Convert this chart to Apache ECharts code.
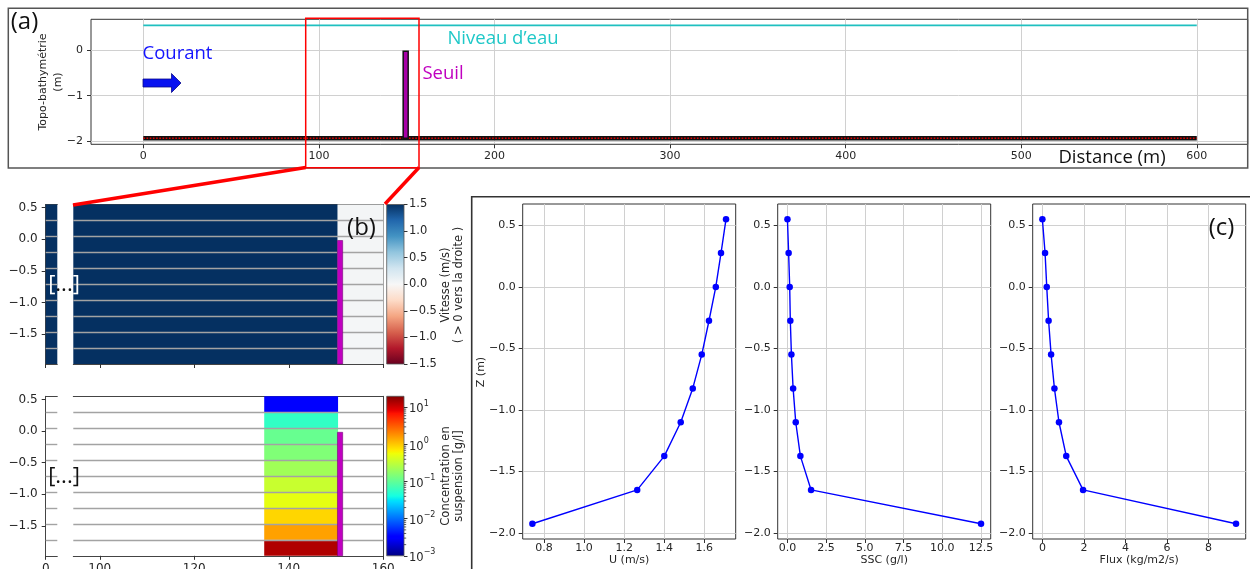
<!DOCTYPE html>
<html>
<head>
<meta charset="utf-8">
<script src="https://cdn.jsdelivr.net/npm/echarts@6/dist/echarts.min.js"></script>
<style>
  html, body { margin: 0; padding: 0; background: #ffffff; }
  #chart { width: 1250px; height: 569px; }
</style>
</head>
<body>
<div id="chart"></div>
<script>
// ---------- (a) longitudinal topo-bathymetry ----------
const channelX = [0, 600];          // m
const waterLevel = 0.55;            // m
const bedLevel = -1.94;             // m
const weirX = [150.3, 151.4];       // m
const weirTop = -0.02;              // m
const distTicks = [0, 100, 200, 300, 400, 500, 600];
const topoTicks = [-2, -1, 0];

// ---------- (b) zoomed sections around the weir ----------
// sigma-layer interfaces, bottom to top (m)
const layerEdges = [-1.975, -1.7225, -1.47, -1.2175, -0.965, -0.7125, -0.46, -0.2075, 0.045, 0.2975, 0.55];
// velocity field: two columns (upstream of the weir / downstream)
const velColumnEdges = [0, 150.3, 165];
const velUpstream = [1.62, 1.64, 1.66, 1.68, 1.70, 1.71, 1.72, 1.73, 1.74, 1.75];    // m/s, bottom to top
const velDownstream = [0.02, 0.02, 0.02, 0.03, 0.03, 0.03, 0.03, 0.03, 0.03, 0.03]; // m/s, bottom to top
// suspended sediment concentration column just upstream of the weir
const sscColumnEdges = [134.8, 150.3];
const sscCells = [13.2, 1.52, 0.87, 0.51, 0.355, 0.22, 0.149, 0.11, 0.058, 0.0033]; // g/l, bottom to top
const zoomDistTicks = [100, 120, 140, 160];
const sectionZTicks = [-1.5, -1, -0.5, 0, 0.5];
const velBarTicks = [-1.5, -1, -0.5, 0, 0.5, 1, 1.5];

// ---------- (c) vertical profiles ----------
const zProfile    = [0.55, 0.275, 0, -0.275, -0.55, -0.825, -1.1, -1.375, -1.65, -1.925]; // m
const uProfile    = [1.708, 1.683, 1.657, 1.623, 1.587, 1.542, 1.482, 1.400, 1.265, 0.742]; // m/s
const sscProfile  = [0.004, 0.08, 0.15, 0.19, 0.26, 0.37, 0.54, 0.84, 1.53, 12.5];        // g/l
const fluxProfile = [0.0, 0.13, 0.21, 0.30, 0.42, 0.58, 0.80, 1.15, 1.96, 9.33];          // kg/m2/s
const zProfileTicks = [-2, -1.5, -1, -0.5, 0, 0.5];
const uTicks = [0.8, 1.0, 1.2, 1.4, 1.6];
const sscTicks = [0, 2.5, 5, 7.5, 10, 12.5];
const fluxTicks = [0, 2, 4, 6, 8];

// ---------- colour maps ----------
function lerpTable(tab, f) {
  if (f <= tab[0][0]) return tab[0][1];
  for (let i = 1; i < tab.length; i++) {
    if (f <= tab[i][0]) {
      const a0 = tab[i - 1][0], v0 = tab[i - 1][1], a1 = tab[i][0], v1 = tab[i][1];
      return v0 + (v1 - v0) * (f - a0) / (a1 - a0);
    }
  }
  return tab[tab.length - 1][1];
}
const JET = {
  r: [[0, 0], [0.35, 0], [0.66, 1], [0.89, 1], [1, 0.5]],
  g: [[0, 0], [0.125, 0], [0.375, 1], [0.64, 1], [0.91, 0], [1, 0]],
  b: [[0, 0.5], [0.11, 1], [0.34, 1], [0.65, 0], [1, 0]]
};
function jet(f) {
  f = Math.min(1, Math.max(0, f));
  const c = k => Math.round(255 * lerpTable(JET[k], f));
  return 'rgb(' + c('r') + ',' + c('g') + ',' + c('b') + ')';
}
const RDBU = ['#67001f', '#b2182b', '#d6604d', '#f4a582', '#fddbc7', '#f7f7f7',
              '#d1e5f0', '#92c5de', '#4393c3', '#2166ac', '#053061'];
function hexRgb(h) { return [1, 3, 5].map(i => parseInt(h.substr(i, 2), 16)); }
function rdbu(f) {
  f = Math.min(1, Math.max(0, f));
  const p = f * 10, i = Math.min(9, Math.floor(p)), t = p - i;
  const a = hexRgb(RDBU[i]), b = hexRgb(RDBU[i + 1]);
  const c = a.map((v, k) => Math.round(v + (b[k] - v) * t));
  return 'rgb(' + c.join(',') + ')';
}
const SSC_MIN = 0.001, SSC_MAX = 20;
const sscColor = v => jet((Math.log10(v) - Math.log10(SSC_MIN)) / (Math.log10(SSC_MAX) - Math.log10(SSC_MIN)));
const VEL_MIN = -1.5, VEL_MAX = 1.5;
const velColor = v => rdbu((v - VEL_MIN) / (VEL_MAX - VEL_MIN));

// ---------- cell tables for the custom series ----------
const velCells = [];
[velUpstream, velDownstream].forEach((col, c) => {
  col.forEach((u, k) => velCells.push([velColumnEdges[c], velColumnEdges[c + 1], layerEdges[k], layerEdges[k + 1], u]));
});
const sscCellData = sscCells.map((v, k) => [sscColumnEdges[0], sscColumnEdges[1], layerEdges[k], layerEdges[k + 1], v]);
const interfaceData = layerEdges.slice(1, -1).map(z => [0, z]);
const weirSection = [[weirX[0], weirX[1], layerEdges[0], weirTop]];

// ---------- renderers ----------
function cellRenderer(colorFn) {
  return function (params, api) {
    const p0 = api.coord([api.value(0), api.value(3)]);
    const p1 = api.coord([api.value(1), api.value(2)]);
    const cs = params.coordSys;
    const shape = echarts.graphic.clipRectByRect(
      { x: p0[0], y: p0[1], width: p1[0] - p0[0] + 0.6, height: p1[1] - p0[1] },
      { x: cs.x, y: cs.y, width: cs.width, height: cs.height });
    return shape && { type: 'rect', shape: shape, style: { fill: colorFn(api.value(4)) } };
  };
}
function interfaceRenderer(params, api) {
  const cs = params.coordSys;
  const y = Math.round(api.coord([0, api.value(1)])[1]) + 0.5;
  return { type: 'line', shape: { x1: cs.x, y1: y, x2: cs.x + cs.width, y2: y },
           style: { stroke: '#a3a3a3', lineWidth: 1.4 } };
}
function weirSectionRenderer(params, api) {
  const p0 = api.coord([api.value(0), api.value(3)]);
  const p1 = api.coord([api.value(1), api.value(2)]);
  const cs = params.coordSys;
  const shape = echarts.graphic.clipRectByRect(
    { x: p0[0], y: p0[1], width: p1[0] - p0[0], height: p1[1] - p0[1] },
    { x: cs.x, y: cs.y, width: cs.width, height: cs.height });
  return shape && { type: 'rect', shape: shape, style: { fill: '#c000c0', stroke: '#7a007a', lineWidth: 0.6 } };
}
function weirProfileRenderer(params, api) {
  const p0 = api.coord([api.value(0), api.value(3)]);
  const p1 = api.coord([api.value(1), api.value(2)]);
  const cx = (p0[0] + p1[0]) / 2 - 2.5;
  const w = Math.max(p1[0] - p0[0], 5);
  return { type: 'rect', shape: { x: cx - w / 2, y: p0[1], width: w, height: p1[1] - p0[1] },
           style: { fill: '#a800a8', stroke: '#111', lineWidth: 1.5 } };
}
// matplotlib-style minor ticks on the log colour bar
const logMinorTicks = [];
[0.001, 0.01, 0.1, 1].forEach(d => { for (let m = 2; m <= 9; m++) logMinorTicks.push([0.5, d * m]); });
function minorTickRenderer(params, api) {
  const cs = params.coordSys;
  const y = api.coord([0.5, api.value(1)])[1];
  return { type: 'line', shape: { x1: cs.x + cs.width, y1: y, x2: cs.x + cs.width + 2.2, y2: y },
           style: { stroke: '#333', lineWidth: 0.8 } };
}

// ---------- helpers ----------
const AXIS_FONT = 'DejaVu Sans';
const INK = '#262626';
const minus = s => s.replace('-', '\u2212');
const fmt1 = v => minus((Math.abs(v) < 1e-9 ? 0 : v).toFixed(1));
const fmt0 = v => minus(String(Math.round(v)));

function valueAxis(o) {
  const ticks = o.ticks || [];
  return {
    type: o.type || 'value',
    gridIndex: o.grid,
    position: o.position,
    min: o.min, max: o.max,
    show: o.show !== false,
    axisLine: { show: !!o.line, onZero: false, lineStyle: { color: o.lineColor || '#333', width: 1 } },
    axisTick: { show: !!o.tickShow, length: 4, inside: false, customValues: ticks, lineStyle: { color: '#333', width: 1 } },
    axisLabel: {
      show: !!o.label, customValues: ticks, formatter: o.formatter,
      color: INK, fontFamily: AXIS_FONT, fontSize: o.fontSize || 10.5, margin: o.margin || 6,
      showMinLabel: true, showMaxLabel: true, hideOverlap: false
    },
    splitLine: { show: !!o.split, lineStyle: { color: '#d0d0d0', width: 1 } },
    name: o.name || '', nameLocation: 'middle', nameGap: o.nameGap || 20,
    nameMoveOverlap: false,
    nameTextStyle: { color: INK, fontFamily: AXIS_FONT, fontSize: 11 },
    silent: true
  };
}

const gridBase = { containLabel: false, outerBoundsMode: 'none' };
const grids = [
  Object.assign({ left: 91, top: 19.3, width: 1156.7, height: 125, show: true, borderColor: '#333', borderWidth: 1 }, gridBase), // 0 (a)
  Object.assign({ left: 45.7, top: 204.5, width: 11.6, height: 159.5 }, gridBase),   // 1 velocity, left piece
  Object.assign({ left: 73.3, top: 204.5, width: 310, height: 159.5 }, gridBase),    // 2 velocity, right piece
  Object.assign({ left: 45.7, top: 396.3, width: 11.6, height: 159.5 }, gridBase),   // 3 concentration, left piece
  Object.assign({ left: 73.3, top: 396.3, width: 310, height: 159.5 }, gridBase),    // 4 concentration, right piece
  Object.assign({ left: 386.7, top: 204.5, width: 17.3, height: 159.5, show: true, borderColor: '#555', borderWidth: 0.8,
    backgroundColor: { type: 'linear', x: 0, y: 0, x2: 0, y2: 1,
      colorStops: RDBU.slice().reverse().map((c, i) => ({ offset: i / 10, color: c })) } }, gridBase), // 5 velocity bar
  Object.assign({ left: 386.7, top: 396.3, width: 17.3, height: 159.5, show: true, borderColor: '#555', borderWidth: 0.8,
    backgroundColor: { type: 'linear', x: 0, y: 0, x2: 0, y2: 1,
      colorStops: [1, 0.91, 0.89, 0.66, 0.65, 0.64, 0.375, 0.35, 0.34, 0.125, 0.11, 0]
        .map(f => ({ offset: 1 - f, color: jet(f) })) } }, gridBase),                 // 6 concentration bar
  Object.assign({ left: 522.7, top: 204, width: 213, height: 335, show: true, borderColor: '#333', borderWidth: 1 }, gridBase),  // 7 U
  Object.assign({ left: 777.7, top: 204, width: 213, height: 335, show: true, borderColor: '#333', borderWidth: 1 }, gridBase),  // 8 SSC
  Object.assign({ left: 1032.7, top: 204, width: 213, height: 335, show: true, borderColor: '#333', borderWidth: 1 }, gridBase)  // 9 Flux
];

const zMin = layerEdges[0], zMax = layerEdges[layerEdges.length - 1];
const pz = [-2.04875, 0.67375];

const xAxes = [
  valueAxis({ grid: 0, min: -29.8, max: 629, ticks: distTicks, tickShow: true, label: true, fontSize: 11, margin: 6, split: true, formatter: fmt0 }),
  valueAxis({ grid: 1, min: 0, max: 2.46, ticks: [0], tickShow: true, line: true, lineColor: '#444' }),
  valueAxis({ grid: 2, min: 94.4, max: 160, ticks: zoomDistTicks, tickShow: true, line: true, lineColor: '#444' }),
  valueAxis({ grid: 3, min: 0, max: 2.46, ticks: [0], tickShow: true, line: true, lineColor: '#444', label: true, fontSize: 12, margin: 7, formatter: fmt0 }),
  valueAxis({ grid: 4, min: 94.4, max: 160, ticks: zoomDistTicks, tickShow: true, line: true, lineColor: '#444', label: true, fontSize: 12, margin: 7, formatter: fmt0 }),
  valueAxis({ grid: 5, min: 0, max: 1, show: false }),
  valueAxis({ grid: 6, min: 0, max: 1, show: false }),
  valueAxis({ grid: 7, min: 0.6937, max: 1.7563, ticks: uTicks, tickShow: true, label: true, margin: 4, split: true, formatter: fmt1, name: 'U (m/s)', nameGap: 16 }),
  valueAxis({ grid: 8, min: -0.625, max: 13.125, ticks: sscTicks, tickShow: true, label: true, margin: 4, split: true, formatter: fmt1, name: 'SSC (g/l)', nameGap: 16 }),
  valueAxis({ grid: 9, min: -0.4665, max: 9.7965, ticks: fluxTicks, tickShow: true, label: true, margin: 4, split: true, formatter: fmt0, name: 'Flux (kg/m2/s)', nameGap: 16 }),
  // top spines of the broken section axes
  valueAxis({ grid: 1, position: 'top', min: 0, max: 2.46, line: true, lineColor: '#444' }),
  valueAxis({ grid: 2, position: 'top', min: 94.4, max: 160, line: true, lineColor: '#444' }),
  valueAxis({ grid: 3, position: 'top', min: 0, max: 2.46, line: true, lineColor: '#444' }),
  valueAxis({ grid: 4, position: 'top', min: 94.4, max: 160, line: true, lineColor: '#444' })
];

const sscBarAxis = valueAxis({ grid: 6, position: 'right', min: SSC_MIN, max: SSC_MAX, tickShow: true, label: true, fontSize: 11, margin: 5 });
sscBarAxis.type = 'log';
sscBarAxis.logBase = 10;
delete sscBarAxis.axisTick.customValues;
delete sscBarAxis.axisLabel.customValues;
sscBarAxis.axisTick.length = 3.5;
sscBarAxis.axisLabel.showMaxLabel = false;
sscBarAxis.axisLabel.formatter = function (v) {
  const e = Math.round(Math.log10(v));
  if (Math.abs(v - Math.pow(10, e)) / v > 1e-6) return '';
  return '{b|10}{e|' + (e < 0 ? '\u2212' : '') + Math.abs(e) + '}';
};
sscBarAxis.axisLabel.rich = {
  b: { fontSize: 11.5, fontFamily: AXIS_FONT, color: INK, lineHeight: 16, verticalAlign: 'bottom' },
  e: { fontSize: 8, fontFamily: AXIS_FONT, color: INK, lineHeight: 16, verticalAlign: 'top' }
};

const yAxes = [
  valueAxis({ grid: 0, min: -2.073, max: 0.684, ticks: topoTicks, tickShow: true, label: true, fontSize: 11, margin: 8, split: true, formatter: fmt0 }),
  valueAxis({ grid: 1, position: 'left', min: zMin, max: zMax, ticks: sectionZTicks, tickShow: true, line: true, lineColor: '#444', label: true, fontSize: 12, margin: 8, formatter: fmt1 }),
  valueAxis({ grid: 2, position: 'right', min: zMin, max: zMax, line: true, lineColor: '#888' }),
  valueAxis({ grid: 3, position: 'left', min: zMin, max: zMax, ticks: sectionZTicks, tickShow: true, line: true, lineColor: '#444', label: true, fontSize: 12, margin: 8, formatter: fmt1 }),
  valueAxis({ grid: 4, position: 'right', min: zMin, max: zMax, line: true, lineColor: '#444' }),
  valueAxis({ grid: 5, position: 'right', min: VEL_MIN, max: VEL_MAX, ticks: velBarTicks, tickShow: true, label: true, fontSize: 11.5, margin: 5, formatter: fmt1 }),
  sscBarAxis,
  valueAxis({ grid: 7, min: pz[0], max: pz[1], ticks: zProfileTicks, tickShow: true, label: true, fontSize: 11, margin: 7, split: true, formatter: fmt1 }),
  valueAxis({ grid: 8, min: pz[0], max: pz[1], ticks: zProfileTicks, tickShow: true, label: true, fontSize: 11, margin: 7, split: true, formatter: fmt1 }),
  valueAxis({ grid: 9, min: pz[0], max: pz[1], ticks: zProfileTicks, tickShow: true, label: true, fontSize: 11, margin: 7, split: true, formatter: fmt1 })
];
yAxes[5].axisTick.length = 3.5;
[7, 8, 9].forEach(i => { xAxes[i].axisLabel.fontSize = 11; });

const profileSeries = (xi, values) => ({
  type: 'line', xAxisIndex: xi, yAxisIndex: xi,
  data: values.map((v, i) => [v, zProfile[i]]),
  symbol: 'circle', symbolSize: 6.5, showSymbol: true,
  itemStyle: { color: '#0000ff' },
  lineStyle: { color: '#0000ff', width: 1.4 },
  z: 5
});

const series = [
  // (a)
  { type: 'line', xAxisIndex: 0, yAxisIndex: 0, data: channelX.map(x => [x, waterLevel]), showSymbol: false,
    lineStyle: { color: '#1fc0c0', width: 1.6 }, z: 3 },
  { type: 'line', xAxisIndex: 0, yAxisIndex: 0, data: channelX.map(x => [x, bedLevel]), showSymbol: false,
    lineStyle: { color: '#111111', width: 4.5 }, z: 3 },
  { type: 'line', xAxisIndex: 0, yAxisIndex: 0, data: channelX.map(x => [x, bedLevel]), showSymbol: false,
    lineStyle: { color: '#e00000', width: 1.6, type: [1.6, 1.6] }, z: 4 },
  { type: 'custom', xAxisIndex: 0, yAxisIndex: 0, data: [[weirX[0], weirX[1], bedLevel, weirTop]],
    renderItem: weirProfileRenderer, z: 5 },
  // (b) velocity
  { type: 'custom', xAxisIndex: 1, yAxisIndex: 1, data: velCells, renderItem: cellRenderer(velColor), z: 2 },
  { type: 'custom', xAxisIndex: 2, yAxisIndex: 2, data: velCells, renderItem: cellRenderer(velColor), z: 2 },
  { type: 'custom', xAxisIndex: 1, yAxisIndex: 1, data: interfaceData, renderItem: interfaceRenderer, z: 3 },
  { type: 'custom', xAxisIndex: 2, yAxisIndex: 2, data: interfaceData, renderItem: interfaceRenderer, z: 3 },
  { type: 'custom', xAxisIndex: 2, yAxisIndex: 2, data: weirSection, renderItem: weirSectionRenderer, z: 4 },
  // (b) concentration
  { type: 'custom', xAxisIndex: 3, yAxisIndex: 3, data: sscCellData, renderItem: cellRenderer(sscColor), z: 2 },
  { type: 'custom', xAxisIndex: 4, yAxisIndex: 4, data: sscCellData, renderItem: cellRenderer(sscColor), z: 2 },
  { type: 'custom', xAxisIndex: 3, yAxisIndex: 3, data: interfaceData, renderItem: interfaceRenderer, z: 3 },
  { type: 'custom', xAxisIndex: 4, yAxisIndex: 4, data: interfaceData, renderItem: interfaceRenderer, z: 3 },
  { type: 'custom', xAxisIndex: 4, yAxisIndex: 4, data: weirSection, renderItem: weirSectionRenderer, z: 4 },
  { type: 'custom', xAxisIndex: 6, yAxisIndex: 6, data: logMinorTicks, renderItem: minorTickRenderer, z: 4 },
  // (c)
  profileSeries(7, uProfile),
  profileSeries(8, sscProfile),
  profileSeries(9, fluxProfile)
];

const T = (x, y, text, font, fill, extra) => Object.assign({
  type: 'text', x: x, y: y, z: 100,
  style: { text: text, font: font, fill: fill, align: 'center', verticalAlign: 'middle' }
}, extra || {});

const graphics = [
  // frames
  { type: 'rect', z: 90, shape: { x: 8.3, y: 8.3, width: 1239.4, height: 159.7 }, style: { fill: 'none', stroke: '#555', lineWidth: 1.5 } },
  { type: 'rect', z: 90, shape: { x: 471.7, y: 196.7, width: 800, height: 420 }, style: { fill: 'none', stroke: '#333', lineWidth: 1.6 } },
  // zoom window and its connectors
  { type: 'rect', z: 95, shape: { x: 305.7, y: 18.3, width: 113.3, height: 149.4 }, style: { fill: 'none', stroke: '#ff0000', lineWidth: 1.5 } },
  { type: 'line', z: 95, shape: { x1: 305.7, y1: 167.5, x2: 73, y2: 205 }, style: { stroke: '#ff0000', lineWidth: 3.5 } },
  { type: 'line', z: 95, shape: { x1: 419, y1: 167.5, x2: 385, y2: 204 }, style: { stroke: '#ff0000', lineWidth: 3.5 } },
  // flow arrow
  { type: 'polygon', z: 96, shape: { points: [[143, 79], [171.5, 79], [171.5, 73.5], [181, 83], [171.5, 92.5], [171.5, 87], [143, 87]] },
    style: { fill: '#0812f0', stroke: '#0a0a8a', lineWidth: 0.8 } },
  // panel letters and annotations
  T(24.5, 22, '(a)', '24px "Open Sans"', '#111'),
  T(177.5, 54, 'Courant', '18.5px "Open Sans"', '#1414ff'),
  T(503, 38.5, 'Niveau d\u2019eau', '18.5px "Open Sans"', '#1fc8c8'),
  T(443, 73.5, 'Seuil', '18.5px "Open Sans"', '#c000c0'),
  T(1112, 158, 'Distance (m)', '18.5px "Open Sans"', '#111'),
  T(361.5, 228, '(b)', '24px "Open Sans"', '#111'),
  T(1221.5, 228, '(c)', '24px "Open Sans"', '#111'),
  { type: 'text', x: 64, y: 285, z: 100,
    style: { text: '{w|[}{k|...}{w|]}', align: 'center', verticalAlign: 'middle',
      rich: { w: { fill: '#ffffff', font: '22px "Open Sans"' }, k: { fill: '#111', font: '22px "Open Sans"' } } } },
  T(64, 477, '[...]', '22px "Open Sans"', '#111'),
  // rotated axis / colour-bar titles
  T(50.5, 82, '', '', INK, { rotation: Math.PI / 2, style: { text: 'Topo-bathym\u00e9trie\n(m)', font: '11px "DejaVu Sans"', fill: INK, align: 'center', verticalAlign: 'middle', lineHeight: 14.4 } }),
  T(452.5, 285, '', '', INK, { rotation: Math.PI / 2, style: { text: 'Vitesse (m/s)\n( > 0 vers la droite )', font: '11.5px "DejaVu Sans"', fill: INK, align: 'center', verticalAlign: 'middle', lineHeight: 13.5 } }),
  T(452.5, 476, '', '', INK, { rotation: Math.PI / 2, style: { text: 'Concentration en\nsuspension [g/l]', font: '11.5px "DejaVu Sans"', fill: INK, align: 'center', verticalAlign: 'middle', lineHeight: 13.5 } }),
  T(481, 372, '', '', INK, { rotation: Math.PI / 2, style: { text: 'Z (m)', font: '11px "DejaVu Sans"', fill: INK, align: 'center', verticalAlign: 'middle' } })
];

const chart = echarts.init(document.getElementById('chart'), null, { renderer: 'canvas', width: 1250, height: 569 });
chart.setOption({
  animation: false,
  backgroundColor: '#ffffff',
  textStyle: { fontFamily: AXIS_FONT },
  grid: grids,
  xAxis: xAxes,
  yAxis: yAxes,
  series: series,
  graphic: { elements: graphics }
});
</script>
</body>
</html>
